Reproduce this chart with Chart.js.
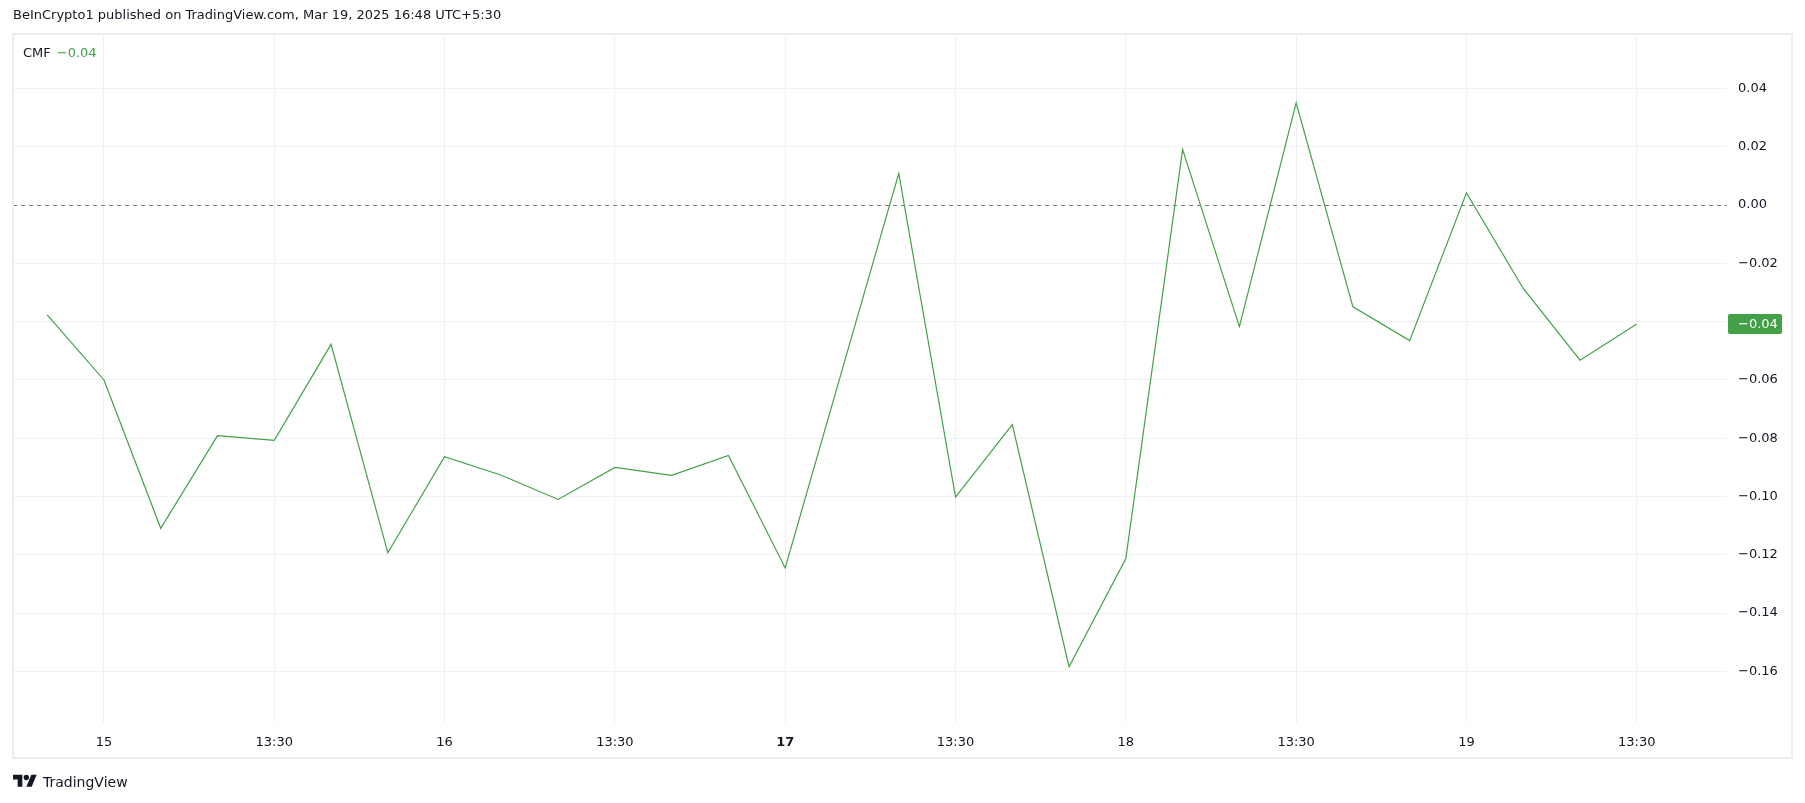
<!DOCTYPE html>
<html>
<head>
<meta charset="utf-8">
<script src="https://cdn.jsdelivr.net/npm/chart.js@4/dist/chart.umd.min.js"></script>
<style>
  body { margin: 0; background: #fff; font-family: "DejaVu Sans", sans-serif; color: #131722; }
  #wrap { position: relative; width: 1805px; height: 803px; }
  #head { position: absolute; left: 13px; top: 7px; font-size: 13px; white-space: nowrap; }
  #legend { position: absolute; left: 23px; top: 45px; font-size: 13px; }
  #legend .v { color: #43a047; margin-left: 6px; }
  #logo { position: absolute; left: 13px; top: 772px; font-size: 14px; display: flex; align-items: center; }
  #logo svg { margin-right: 6px; }
</style>
</head>
<body>
<div id="wrap">
  <canvas id="cmfChart" width="1805" height="803"></canvas>
  <div id="head">BeInCrypto1 published on TradingView.com, Mar 19, 2025 16:48 UTC+5:30</div>
  <div id="legend">CMF<span class="v" id="lastVal"></span></div>
  <div id="logo">
    <svg width="24" height="19" viewBox="0 0 36 28"><path d="M14 22H7V11H0V4h14v18zM28 22h-8l7.5-18h8L28 22z" fill="#131722"/><circle cx="20" cy="8" r="4" fill="#131722"/></svg>
    <span>TradingView</span>
  </div>
</div>
<script>
// 4h bars, day + time (UTC+5:30)
const categories = [
  '14 21:30',
  '15 01:30', '15 05:30', '15 09:30', '15 13:30', '15 17:30', '15 21:30',
  '16 01:30', '16 05:30', '16 09:30', '16 13:30', '16 17:30', '16 21:30',
  '17 01:30', '17 05:30', '17 09:30', '17 13:30', '17 17:30', '17 21:30',
  '18 01:30', '18 05:30', '18 09:30', '18 13:30', '18 17:30', '18 21:30',
  '19 01:30', '19 05:30', '19 09:30', '19 13:30'
];
const cmfValues = [
  -0.0377,
  -0.0600, -0.1109, -0.0791, -0.0807, -0.0478, -0.1193,
  -0.0863, -0.0927, -0.1010, -0.0900, -0.0927, -0.0859,
  -0.1245, -0.0567, 0.0109, -0.1002, -0.0753, -0.1584,
  -0.1213, 0.0191, -0.0417, 0.0351, -0.0349, -0.0465,
  0.0042, -0.0286, -0.0532, -0.0408
];
const boldTicks = ['17'];   // start of week
const yStep = 0.02;

const fmt = v => (Math.abs(v) < 1e-9 ? 0 : v).toFixed(2).replace('-', '\u2212');

function tickLabel(i) {
  const [day, time] = categories[i].split(' ');
  if (time === '01:30') return day;
  if (time === '13:30') return time;
  return null;
}
const tickIdx = categories.map((c, i) => i).filter(i => tickLabel(i) !== null);

const last = cmfValues[cmfValues.length - 1];
document.getElementById('lastVal').innerText = fmt(last);

const GREEN = '#43a047';
const GRID = '#f0f1f4';

const extras = {
  id: 'extras',
  beforeDatasetsDraw(chart) {
    const { ctx, chartArea, scales } = chart;
    const y0 = Math.round(scales.y.getPixelForValue(0)) + 0.5;
    ctx.save();
    ctx.strokeStyle = '#787b86';
    ctx.lineWidth = 1;
    ctx.setLineDash([4, 4]);
    ctx.beginPath();
    ctx.moveTo(chartArea.left, y0);
    ctx.lineTo(chartArea.right, y0);
    ctx.stroke();
    ctx.restore();
  },
  afterDraw(chart) {
    const { ctx, chartArea, scales } = chart;
    ctx.save();
    // pane frame
    ctx.strokeStyle = '#ededed';
    ctx.lineWidth = 2;
    ctx.strokeRect(chartArea.left, chartArea.top, scales.y.right - chartArea.left, scales.x.bottom - chartArea.top);
    // last value badge
    const y = scales.y.getPixelForValue(last);
    const x = chartArea.right + 1;
    ctx.fillStyle = GREEN;
    ctx.beginPath();
    ctx.roundRect(x, Math.round(y) - 10, 54, 20, 2);
    ctx.fill();
    ctx.fillStyle = '#fff';
    ctx.font = '13px "DejaVu Sans"';
    ctx.textBaseline = 'middle';
    ctx.textAlign = 'left';
    ctx.fillText(fmt(last), chartArea.right + 11, Math.round(y) + 1);
    ctx.restore();
  }
};

new Chart(document.getElementById('cmfChart'), {
  type: 'line',
  data: {
    datasets: [{
      label: 'CMF',
      data: cmfValues.map((v, i) => ({ x: i, y: v })),
      borderColor: GREEN,
      borderWidth: 1.2,
      pointRadius: 0,
      tension: 0
    }]
  },
  options: {
    responsive: false,
    animation: false,
    layout: { padding: { left: 13, top: 34, right: 13, bottom: 45 } },
    plugins: { legend: { display: false }, tooltip: { enabled: false } },
    scales: {
      x: {
        type: 'linear',
        min: -0.6024,
        max: 29.589,
        afterBuildTicks: s => { s.ticks = tickIdx.map(v => ({ value: v })); },
        afterFit: s => { s.height = 35; },
        grid: { color: GRID, drawTicks: false },
        border: { display: false },
        ticks: {
          padding: 12,
          maxRotation: 0,
          autoSkip: false,
          color: '#131722',
          font: c => {
            const bold = c.tick && boldTicks.includes(tickLabel(c.tick.value));
            return { family: '"DejaVu Sans"', size: 13, weight: bold ? 'bold' : 'normal' };
          },
          callback: v => tickLabel(v)
        }
      },
      y: {
        position: 'right',
        min: -0.1777,
        max: 0.0587,
        afterFit: s => { s.width = 65; },
        grid: {
          color: c => (c.tick && Math.abs(c.tick.value) < 1e-9) ? 'rgba(0,0,0,0)' : GRID,
          drawTicks: false
        },
        border: { display: false },
        ticks: {
          stepSize: yStep,
          includeBounds: false,
          padding: 11,
          color: '#131722',
          font: { family: '"DejaVu Sans"', size: 13 },
          callback: v => fmt(v)
        }
      }
    }
  },
  plugins: [extras]
});
</script>
</body>
</html>
